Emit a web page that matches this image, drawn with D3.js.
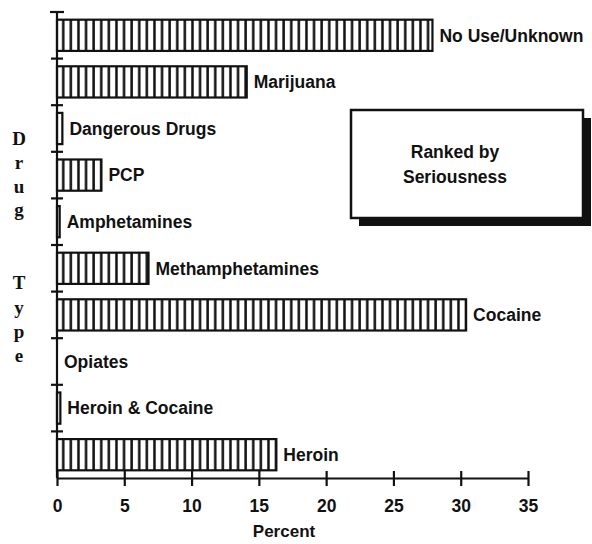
<!DOCTYPE html>
<html>
<head>
<meta charset="utf-8">
<script src="https://cdn.jsdelivr.net/npm/d3@7"></script>
<style>
body { margin: 0; background: #fff; }
text { font-family: "Liberation Sans", Arial, sans-serif; font-weight: bold; fill: #111; }
</style>
</head>
<body>
<script>
// data, top to bottom (ranked by seriousness)
var drugs = ["No Use/Unknown", "Marijuana", "Dangerous Drugs", "PCP", "Amphetamines",
  "Methamphetamines", "Cocaine", "Opiates", "Heroin & Cocaine", "Heroin"];
var percents = [27.9, 14.1, 0.4, 3.3, 0.2, 6.8, 30.4, 0, 0.25, 16.3];
var xTicks = [0, 5, 10, 15, 20, 25, 30, 35];
var yLabel = ["D", "r", "u", "g", "", "", "T", "y", "p", "e"];

var data = drugs.map(function(d, i) { return { name: d, value: percents[i] }; });

var width = 592, height = 544;

var svg = d3.select("body").append("svg")
  .attr("width", width)
  .attr("height", height);

//scales
var x = d3.scaleLinear().domain([0, 35]).range([57, 528]);
var y = d3.scaleBand().domain(drugs).range([12, 478]).paddingInner(0);
var barH = y.bandwidth() * 0.67;

//hatch pattern
var pat = svg.append("defs").append("pattern")
  .attr("id", "hatch")
  .attr("patternUnits", "userSpaceOnUse")
  .attr("x", x(0))
  .attr("width", 7.6)
  .attr("height", 10);
pat.append("rect").attr("width", 7.6).attr("height", 10).attr("fill", "#fff");
pat.append("rect").attr("x", 5).attr("width", 2.5).attr("height", 10).attr("fill", "#111");

//shadow box
svg.append("rect")
  .attr("x", 359).attr("y", 118)
  .attr("width", 232).attr("height", 108)
  .attr("fill", "#111");
svg.append("rect")
  .attr("x", 351).attr("y", 110)
  .attr("width", 232).attr("height", 108)
  .attr("fill", "#fff")
  .attr("stroke", "#111")
  .attr("stroke-width", 2.5);
svg.append("text").attr("x", 455).attr("y", 158)
  .attr("text-anchor", "middle").style("font-size", "17.5px").text("Ranked by");
svg.append("text").attr("x", 455).attr("y", 183)
  .attr("text-anchor", "middle").style("font-size", "17.5px").text("Seriousness");

//bars
var g = svg.selectAll(".bar")
  .data(data)
  .enter().append("g")
  .attr("class", "bar");

g.filter(function(d) { return d.value > 0; })
  .append("rect")
  .attr("x", x(0))
  .attr("y", function(d) { return y(d.name) + (y.bandwidth() - barH) / 2; })
  .attr("width", function(d) { return x(d.value) - x(0); })
  .attr("height", barH)
  .attr("fill", "url(#hatch)")
  .attr("stroke", "#111")
  .attr("stroke-width", 2.2);

g.append("text")
  .attr("x", function(d) { return x(d.value) + 7; })
  .attr("y", function(d) { return y(d.name) + y.bandwidth() / 2; })
  .attr("dy", "0.36em")
  .style("font-size", "17.5px")
  .text(function(d) { return d.name; });

//x axis
var xAxis = svg.append("g")
  .attr("transform", "translate(0,478)")
  .call(d3.axisBottom(x).tickValues(xTicks).tickSize(15).tickSizeOuter(0));
xAxis.select(".domain").attr("stroke", "#111").attr("stroke-width", 2.2);
xAxis.selectAll(".tick line")
  .attr("y1", -7).attr("y2", 8)
  .attr("stroke", "#111").attr("stroke-width", 2.2);
xAxis.selectAll(".tick text")
  .attr("y", 34).attr("dy", 0)
  .style("font-size", "17.5px")
  .style("font-family", "Liberation Sans, Arial, sans-serif")
  .attr("fill", "#111");

svg.append("text")
  .attr("x", 284).attr("y", 537)
  .attr("text-anchor", "middle")
  .style("font-size", "17px")
  .text("Percent");

//y axis
svg.append("line")
  .attr("x1", x(0)).attr("x2", x(0))
  .attr("y1", y.range()[0]).attr("y2", y.range()[1])
  .attr("stroke", "#111").attr("stroke-width", 2.2);

var seps = drugs.map(function(d) { return y(d); });
svg.selectAll(".sep")
  .data(seps)
  .enter().append("line")
  .attr("class", "sep")
  .attr("x1", function(d, i) { return i == 0 ? x(0) - 7 : x(0) - 6; })
  .attr("x2", function(d, i) { return i == 0 ? x(0) + 7 : x(0) + 6; })
  .attr("y1", function(d) { return d; })
  .attr("y2", function(d) { return d; })
  .attr("stroke", "#111").attr("stroke-width", 2.2);

//vertical "Drug Type" label
var yBase = [145, 169, 193, 216, 0, 0, 289, 314, 338, 362];
svg.selectAll(".ylab")
  .data(yLabel)
  .enter().append("text")
  .attr("class", "ylab")
  .attr("x", 19)
  .attr("y", function(d, i) { return yBase[i]; })
  .attr("text-anchor", "middle")
  .style("font-family", "Liberation Serif, Times New Roman, serif")
  .style("font-size", "19px")
  .text(function(d) { return d; });
</script>
</body>
</html>
